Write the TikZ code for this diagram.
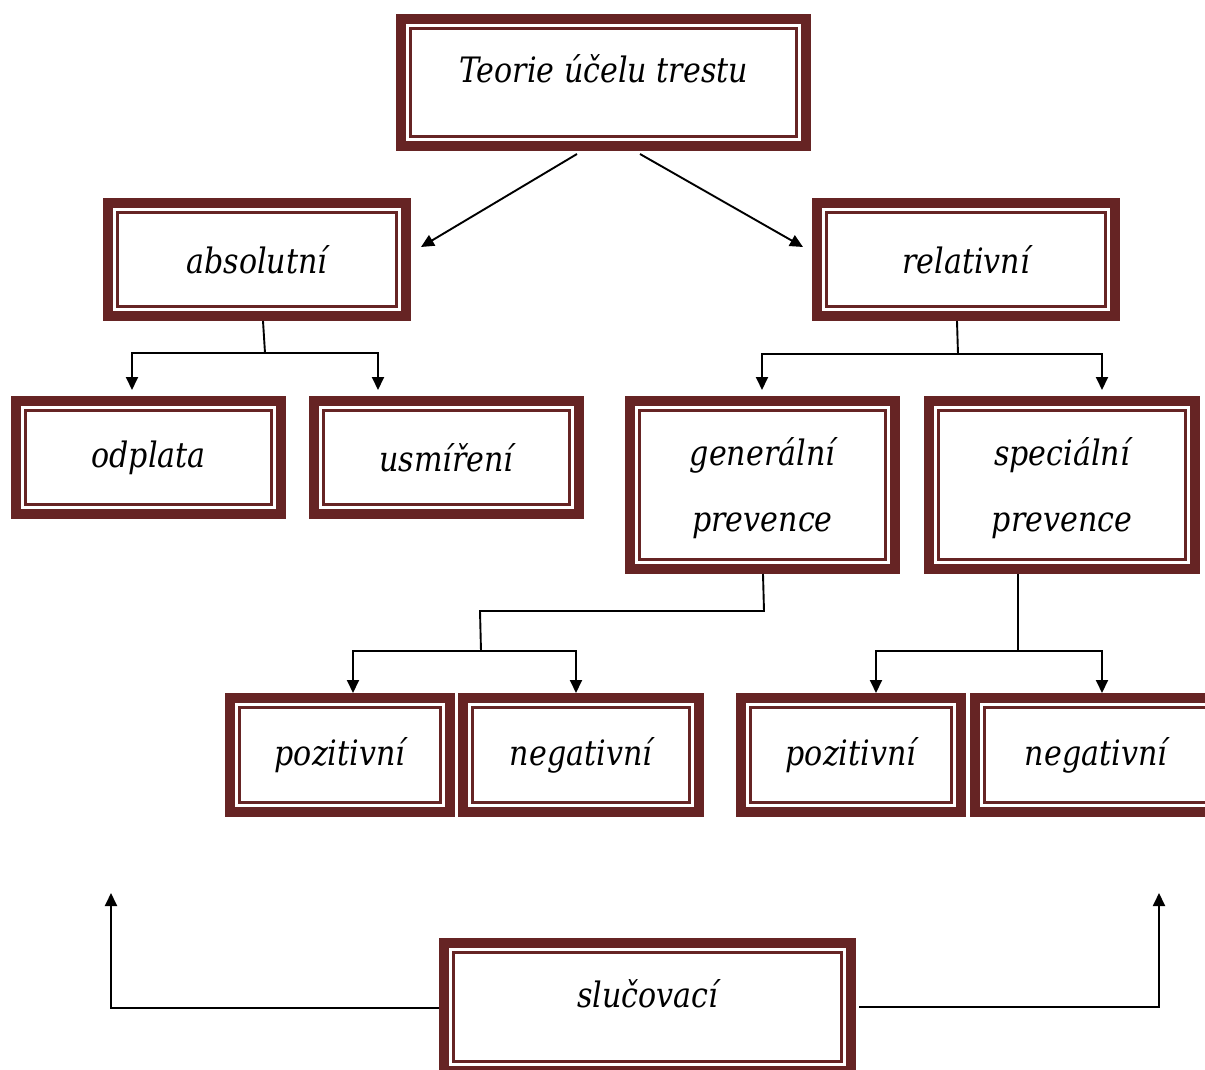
\documentclass[tikz,border=0pt]{standalone}
\usepackage{fontspec}
\setmainfont{DejaVu Serif}[FakeStretch=0.86]
\usetikzlibrary{arrows.meta,calc}
\definecolor{maroon}{RGB}{102,36,36}
\tikzset{
  framebox/.style={draw=maroon, line width=10pt, fill=white, align=center,
    font={\fontsize{35}{66}\selectfont\itshape}, inner sep=0pt},
  innerline/.style={draw=maroon, line width=3pt},
  conn/.style={draw=black, line width=1.9pt},
  arr/.style={conn, -{Triangle[width=12pt,length=13pt]}},
}
\newcommand{\frameinner}[1]{\draw[innerline] ($(#1.south west)+(14.5,-14.5)$) rectangle ($(#1.north east)+(-14.5,14.5)$);}
\newcommand{\lowered}[1]{\raisebox{-3pt}[\height][\depth]{#1}}
\begin{document}
\begin{tikzpicture}[x=1pt,y=-1pt]
\useasboundingbox (0,0) rectangle (1205,1070);
% boxes
\node[framebox, minimum width=405pt, minimum height=127pt] (top) at (603.5,82.5) {\smash{Teorie účelu trestu}};
\node[framebox, minimum width=298pt, minimum height=113pt] (abs) at (257,259.5) {absolutní};
\node[framebox, minimum width=298pt, minimum height=113pt] (rel) at (966,259.5) {relativní};
\node[framebox, minimum width=265pt, minimum height=113pt] (odp) at (148.5,457.5) {odplata};
\node[framebox, minimum width=265pt, minimum height=113pt] (usm) at (446.5,457.5) {usmíření};
\node[framebox, minimum width=265pt, minimum height=168pt] (gen) at (762.5,485) {\lowered{generální}\\\lowered{prevence}};
\node[framebox, minimum width=266pt, minimum height=168pt] (spec) at (1062,485) {\lowered{speciální}\\\lowered{prevence}};
\node[framebox, minimum width=220pt, minimum height=114pt] (poz1) at (340,755) {pozitivní};
\node[framebox, minimum width=236pt, minimum height=114pt] (neg1) at (581,755) {negativní};
\node[framebox, minimum width=220pt, minimum height=114pt] (poz2) at (851,755) {pozitivní};
\node[framebox, minimum width=242pt, minimum height=114pt] (neg2) at (1096,755) {negativní};
\node[framebox, minimum width=407pt, minimum height=128pt] (sluc) at (647.5,1007) {\smash{slučovací}};
\foreach \n in {top,abs,rel,odp,usm,gen,spec,poz1,neg1,poz2,neg2,sluc} {\frameinner{\n}}
% connectors
\draw[arr] ($(top.south)+(-26.5,3)$) -- ($(abs.east)+(10,-12.5)$);
\draw[arr] ($(top.south)+(36.5,3)$) -- ($(rel.west)+(-9,-12.5)$);
\draw[conn] ($(abs.south)+(6,0)$) -- ++(2,32) coordinate (absj);
\draw[arr] (absj) -| ($(odp.north)+(-16.5,-6)$);
\draw[arr] (absj) -| ($(usm.north)+(-68.5,-6)$);
\draw[conn] ($(rel.south)+(-9,0)$) -- ++(1,33) coordinate (relj);
\draw[arr] (relj) -| ($(gen.north)+(-0.5,-6)$);
\draw[arr] (relj) -| ($(spec.north)+(40,-6)$);
\draw[conn] ($(gen.south)+(0.5,0)$) -- ++(1,37) -- (480,611) -- (481,651) coordinate (genj);
\draw[arr] (genj) -| (poz1.north -| 353,0);
\draw[arr] (genj) -| (neg1.north -| 576,0);
\draw[conn] ($(spec.south)+(-44,0)$) -- ++(0,77) coordinate (specj);
\draw[arr] (specj) -| ($(poz2.north)+(25,0)$);
\draw[arr] (specj) -| ($(neg2.north)+(6,0)$);
\coordinate (lt) at (111,893);
\coordinate (rt) at (1159,893);
\draw[arr] ($(sluc.west)+(0,1)$) -| (lt);
\draw[arr] ($(sluc.east)+(3,0)$) -| (rt);
\end{tikzpicture}
\end{document}
